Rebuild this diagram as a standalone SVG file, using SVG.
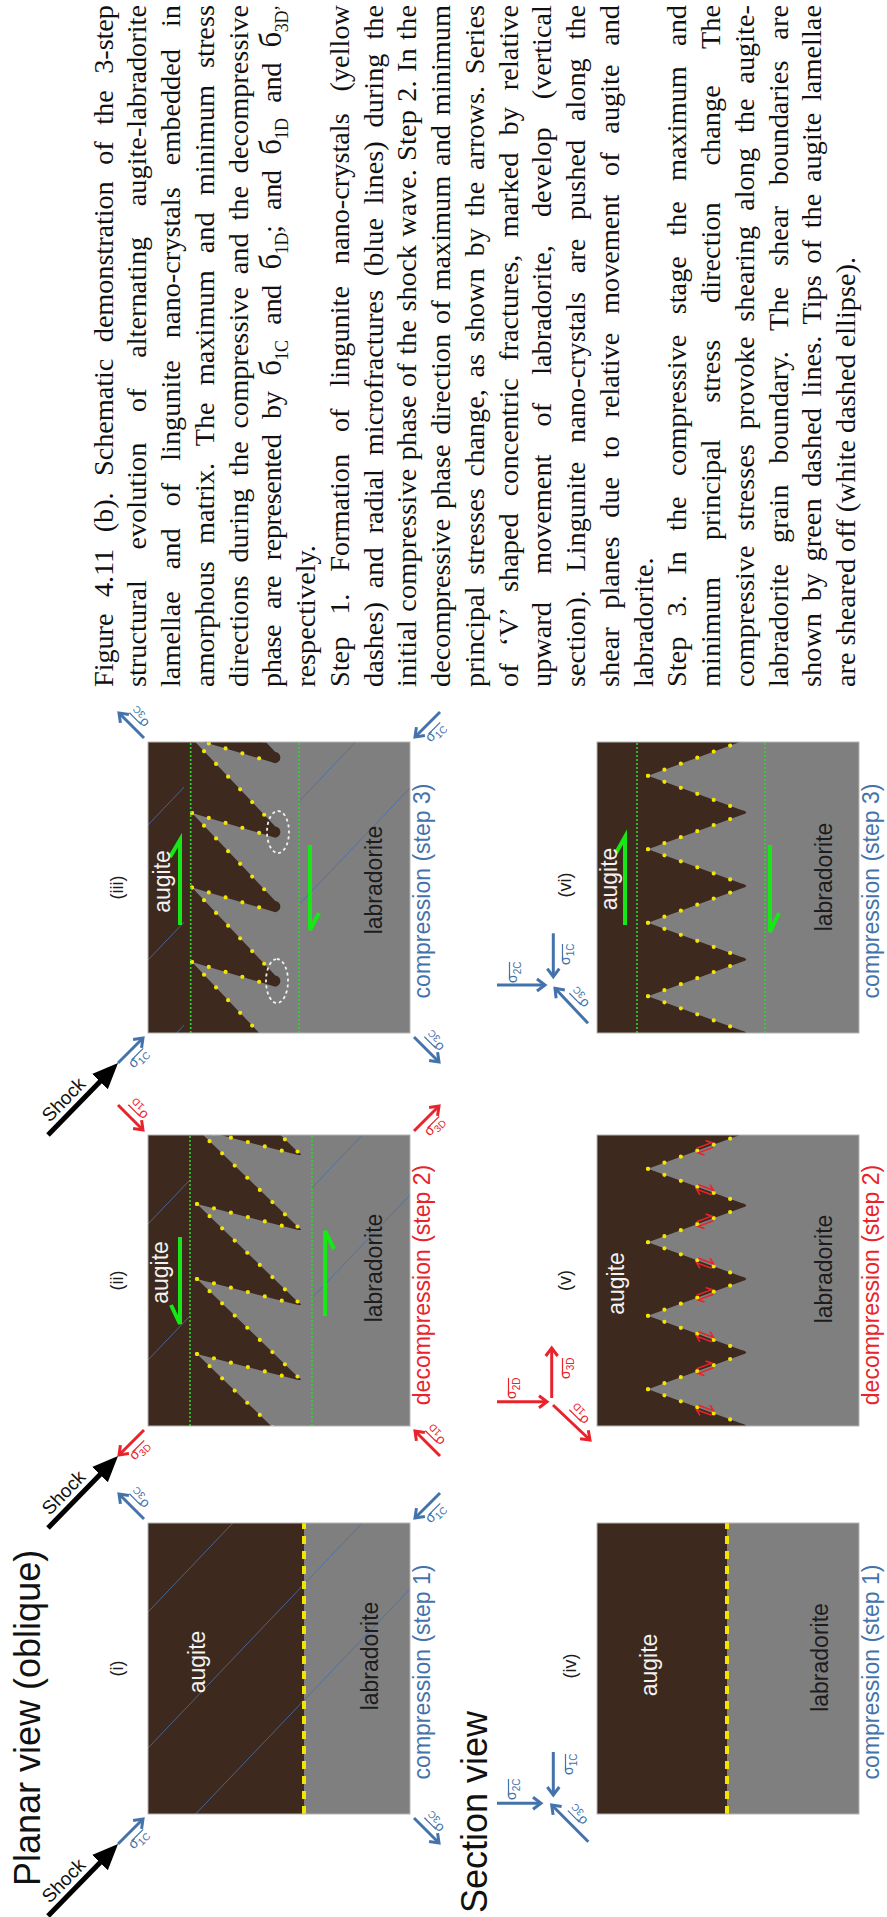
<svg xmlns="http://www.w3.org/2000/svg" width="887" height="1917" viewBox="0 0 887 1917">
<defs>
<style>
.sans{font-family:"Liberation Sans",Arial,sans-serif}
.serif{font-family:"Liberation Serif","Times New Roman",serif;font-size:28.3px;fill:#111}
.sg{font-size:31px}
.ts{font-size:18px}
.aug{fill:#f2f2f2;font-size:23px}
.lab{fill:#1c1c1c;font-size:23px}
.num{fill:#1c1c1c;font-size:18px}
.cap{font-size:23px}
.cb{fill:#4472aa}
.cr{fill:#e8232b}
.sig{font-size:14px}
.sub{font-size:10px}
.brown{fill:#3d291d}
.gray{fill:#7f7f7f}
.box{fill:none;stroke:#b5b5b5;stroke-width:1}
.frac{stroke:#4a6ea8;stroke-width:1;fill:none;opacity:.85}
.gd{stroke:#2fd42f;stroke-width:1.6;stroke-dasharray:2 2;fill:none}
.ga{stroke:#16e816;stroke-width:4;fill:none}
.yd{stroke:#f3e500;stroke-width:4.2;stroke-linecap:round;stroke-dasharray:0 17.5;fill:none}
.ydash{stroke:#f3e500;stroke-width:4;stroke-dasharray:8 7}
.ell{fill:none;stroke:#f0f0f0;stroke-width:1.8;stroke-dasharray:3 3}
.ab{stroke:#4472aa;stroke-width:3;fill:none}
.ar{stroke:#e8232b;stroke-width:3;fill:none}
.bb{stroke:#4472aa;stroke-width:1.2}
.br{stroke:#e8232b;stroke-width:1.2}
.shock{stroke:#000;stroke-width:5;fill:none}
</style>
<clipPath id="pc"><rect width="291" height="262"/></clipPath>
<marker id="hb" markerUnits="userSpaceOnUse" markerWidth="18" markerHeight="18" refX="11" refY="9" orient="auto"><path d="M3,3 L11,9 L3,15" fill="none" stroke="#4472aa" stroke-width="3"/></marker>
<marker id="hr" markerUnits="userSpaceOnUse" markerWidth="18" markerHeight="18" refX="11" refY="9" orient="auto"><path d="M3,3 L11,9 L3,15" fill="none" stroke="#e8232b" stroke-width="3"/></marker>
<marker id="hk" markerUnits="userSpaceOnUse" markerWidth="28" markerHeight="24" refX="8" refY="12" orient="auto"><path d="M0,1 L26,12 L0,23 Z" fill="#000"/></marker>
<!-- sheared lamella, planar step 2 (origin = its left root) -->
<path id="fin2" class="brown" d="M0,-8 H75 V0 L-22.8,100.7 Q-27.5,108 -25.5,99.2 L0,0 Z"/>
<g id="dots2"><line class="yd" x1="75" y1="0" x2="-23" y2="101"/><line class="yd" x1="0" y1="0" x2="-25.5" y2="99.5"/></g>
<!-- sheared lamella with blunt rounded tip, planar step 3 -->
<path id="fin3" class="brown" d="M0,-8 H74.5 V0 L-13.5,83.3 A5.6,5.6 0 0 1 -24.65,83.3 L0,0 Z"/>
<g id="dots3"><line class="yd" x1="74.5" y1="0" x2="-13.5" y2="83.3"/><line class="yd" x1="0" y1="0" x2="-24.6" y2="83.3"/></g>
<!-- V-shaped lamella, section view -->
<path id="finv" class="brown" d="M0,-8 H73.5 V0 L39.2,93.4 Q36.75,103 34.3,93.4 L0,0 Z"/>
<g id="dotsv"><line class="yd" x1="0" y1="0" x2="36" y2="98"/><line class="yd" x1="73.5" y1="0" x2="37.5" y2="98"/></g>
<!-- opposed shear half-arrows along a fracture -->
<g id="sh" fill="none" stroke="#e8232b" stroke-width="1.6"><path d="M-8,-2.5 H8 L3,-6.5"/><path d="M8,2.5 H-8 L-3,6.5"/></g>
</defs>

<rect width="887" height="1917" fill="#fff"/>

<g transform="translate(0,1917) rotate(-90)">

<g id="title-planar"><text class="sans" x="31" y="40" font-size="36" fill="#111">Planar view (oblique)</text></g>
<g id="title-section"><text class="sans" x="4" y="487" font-size="36" fill="#111">Section view</text></g>

<!-- planar (i) -->
<g id="panel-i" transform="translate(103,148)">
  <g clip-path="url(#pc)">
    <rect class="gray" width="291" height="262"/>
    <rect class="brown" width="291" height="156"/>
    <path class="frac" d="M202,0 L291,84.8 M66,0 L291,214.3 M0,47.6 L225,262"/>
    <line class="ydash" x1="0" y1="156" x2="291" y2="156"/>
  </g>
  <rect class="box" width="291" height="262"/>
  <text class="sans num" x="145.5" y="-25" text-anchor="middle">(i)</text>
  <text class="sans aug" x="152" y="57" text-anchor="middle">augite</text>
  <text class="sans lab" x="158" y="230" text-anchor="middle">labradorite</text>
  <text class="sans cap cb" x="142" y="282" text-anchor="middle">compression (step 1)</text>
</g>

<!-- planar (ii) -->
<g id="panel-ii" transform="translate(491,148)">
  <g clip-path="url(#pc)">
    <rect class="gray" width="291" height="262"/>
    <rect class="brown" width="291" height="49"/>
    <path class="frac" d="M202,0 L291,84.8 M66,0 L291,214.3 M0,41.9 L231,262"/>
    <rect class="gray" y="42" width="291" height="122"/>
    <use href="#fin2" x="-3" y="49"/><use href="#fin2" x="72" y="49"/><use href="#fin2" x="147" y="49"/><use href="#fin2" x="222" y="49"/><use href="#fin2" x="297" y="49"/>
    <use href="#dots2" x="-3" y="49"/><use href="#dots2" x="72" y="49"/><use href="#dots2" x="147" y="49"/><use href="#dots2" x="222" y="49"/><use href="#dots2" x="297" y="49"/>
    <line class="gd" x1="0" y1="42" x2="291" y2="42"/>
    <line class="gd" x1="0" y1="164" x2="291" y2="164"/>
    <path class="ga" d="M189,32 H102 L121,23"/>
    <path class="ga" d="M110,177 H195 L177,186"/>
  </g>
  <rect class="box" width="291" height="262"/>
  <text class="sans num" x="145.5" y="-25" text-anchor="middle">(ii)</text>
  <text class="sans aug" x="153.5" y="20" text-anchor="middle">augite</text>
  <text class="sans lab" x="158" y="234" text-anchor="middle">labradorite</text>
  <text class="sans cap cr" x="141" y="282" text-anchor="middle">decompression (step 2)</text>
</g>

<!-- planar (iii) -->
<g id="panel-iii" transform="translate(884,148)">
  <g clip-path="url(#pc)">
    <rect class="gray" width="291" height="262"/>
    <rect class="brown" width="291" height="44"/>
    <path class="frac" d="M208,0 L291,79 M73,0 L291,207.6 M0,28.6 L245,262"/>
    <rect class="gray" y="42.7" width="291" height="108.3"/>
    <use href="#fin3" x="-3.5" y="44"/><use href="#fin3" x="71" y="44"/><use href="#fin3" x="145.5" y="44"/><use href="#fin3" x="220" y="44"/><use href="#fin3" x="294.5" y="44"/>
    <use href="#dots3" x="-3.5" y="44"/><use href="#dots3" x="71" y="44"/><use href="#dots3" x="145.5" y="44"/><use href="#dots3" x="220" y="44"/><use href="#dots3" x="294.5" y="44"/>
    <ellipse class="ell" cx="201" cy="130" rx="21" ry="11"/>
    <ellipse class="ell" cx="52" cy="129" rx="22" ry="11"/>
    <line class="gd" x1="0" y1="42.7" x2="291" y2="42.7"/>
    <line class="gd" x1="0" y1="151" x2="291" y2="151"/>
    <path class="ga" d="M108,32 H193 L176,22"/>
    <path class="ga" d="M188,162 H103 L120,171"/>
  </g>
  <rect class="box" width="291" height="262"/>
  <text class="sans num" x="145.5" y="-25" text-anchor="middle">(iii)</text>
  <text class="sans aug" x="151.5" y="22" text-anchor="middle">augite</text>
  <text class="sans lab" x="153" y="234" text-anchor="middle">labradorite</text>
  <text class="sans cap cb" x="142" y="282" text-anchor="middle">compression (step 3)</text>
</g>

<!-- section (iv) -->
<g id="panel-iv" transform="translate(103,597)">
  <g clip-path="url(#pc)">
    <rect class="gray" width="291" height="262"/>
    <rect class="brown" width="291" height="130"/>
    <line class="ydash" x1="0" y1="130" x2="291" y2="130"/>
  </g>
  <rect class="box" width="291" height="262"/>
  <text class="sans num" x="148" y="-21" text-anchor="middle">(iv)</text>
  <text class="sans aug" x="149" y="60" text-anchor="middle">augite</text>
  <text class="sans lab" x="156.5" y="231" text-anchor="middle">labradorite</text>
  <text class="sans cap cb" x="142" y="282" text-anchor="middle">compression (step 1)</text>
</g>

<!-- section (v) -->
<g id="panel-v" transform="translate(491,597)">
  <g clip-path="url(#pc)">
    <rect class="gray" width="291" height="262"/>
    <rect class="brown" width="291" height="51"/>
    <use href="#finv" x="-36.75" y="51"/><use href="#finv" x="36.75" y="51"/><use href="#finv" x="110.25" y="51"/><use href="#finv" x="183.75" y="51"/><use href="#finv" x="257.25" y="51"/>
    <use href="#dotsv" x="-36.75" y="51"/><use href="#dotsv" x="36.75" y="51"/><use href="#dotsv" x="110.25" y="51"/><use href="#dotsv" x="183.75" y="51"/><use href="#dotsv" x="257.25" y="51"/>
    <use href="#sh" transform="translate(15.75,108) rotate(110.2)"/>
    <use href="#sh" transform="translate(57.75,108) rotate(69.8)"/>
    <use href="#sh" transform="translate(89.25,108) rotate(110.2)"/>
    <use href="#sh" transform="translate(131.25,108) rotate(69.8)"/>
    <use href="#sh" transform="translate(162.75,108) rotate(110.2)"/>
    <use href="#sh" transform="translate(204.75,108) rotate(69.8)"/>
    <use href="#sh" transform="translate(236.25,108) rotate(110.2)"/>
    <use href="#sh" transform="translate(278.25,108) rotate(69.8)"/>
  </g>
  <rect class="box" width="291" height="262"/>
  <text class="sans num" x="145.5" y="-26" text-anchor="middle">(v)</text>
  <text class="sans aug" x="142.5" y="26.5" text-anchor="middle">augite</text>
  <text class="sans lab" x="157" y="235" text-anchor="middle">labradorite</text>
  <text class="sans cap cr" x="141" y="282" text-anchor="middle">decompression (step 2)</text>
</g>

<!-- section (vi) -->
<g id="panel-vi" transform="translate(884,597)">
  <g clip-path="url(#pc)">
    <rect class="gray" width="291" height="262"/>
    <rect class="brown" width="291" height="51"/>
    <use href="#finv" x="-36.75" y="51"/><use href="#finv" x="36.75" y="51"/><use href="#finv" x="110.25" y="51"/><use href="#finv" x="183.75" y="51"/><use href="#finv" x="257.25" y="51"/>
    <use href="#dotsv" x="-36.75" y="51"/><use href="#dotsv" x="36.75" y="51"/><use href="#dotsv" x="110.25" y="51"/><use href="#dotsv" x="183.75" y="51"/><use href="#dotsv" x="257.25" y="51"/>
    <line class="gd" x1="0" y1="40" x2="291" y2="40"/>
    <line class="gd" x1="0" y1="168" x2="291" y2="168"/>
    <path class="ga" d="M108,28 H196 L180,19"/>
    <path class="ga" d="M188,173 H101 L120,182"/>
  </g>
  <rect class="box" width="291" height="262"/>
  <text class="sans num" x="148" y="-26" text-anchor="middle">(vi)</text>
  <text class="sans aug" x="154" y="20" text-anchor="middle">augite</text>
  <text class="sans lab" x="156" y="235" text-anchor="middle">labradorite</text>
  <text class="sans cap cb" x="142" y="282" text-anchor="middle">compression (step 3)</text>
</g>

<!-- stress and shock arrows -->
<g id="connectors">
  <line class="shock" x1="1" y1="48" x2="60.1" y2="105.5" marker-end="url(#hk)"/>
  <line class="shock" x1="389" y1="48" x2="448.1" y2="105.5" marker-end="url(#hk)"/>
  <line class="shock" x1="782" y1="48" x2="841.1" y2="105.5" marker-end="url(#hk)"/>

  <line class="ab" x1="73" y1="118" x2="98" y2="143" marker-end="url(#hb)"/>
  <line class="ab" x1="398" y1="144" x2="423" y2="119" marker-end="url(#hb)"/>
  <line class="ab" x1="99" y1="414" x2="74" y2="439" marker-end="url(#hb)"/>
  <line class="ab" x1="424" y1="440" x2="399" y2="415" marker-end="url(#hb)"/>

  <line class="ar" x1="487" y1="144" x2="462" y2="119" marker-end="url(#hr)"/>
  <line class="ar" x1="812" y1="118" x2="787" y2="143" marker-end="url(#hr)"/>
  <line class="ar" x1="461" y1="440" x2="486" y2="415" marker-end="url(#hr)"/>
  <line class="ar" x1="786" y1="414" x2="811" y2="439" marker-end="url(#hr)"/>

  <line class="ab" x1="854" y1="118" x2="879" y2="143" marker-end="url(#hb)"/>
  <line class="ab" x1="1179" y1="144" x2="1204" y2="119" marker-end="url(#hb)"/>
  <line class="ab" x1="880" y1="414" x2="855" y2="439" marker-end="url(#hb)"/>
  <line class="ab" x1="1205" y1="440" x2="1180" y2="415" marker-end="url(#hb)"/>

  <line class="ab" x1="113.7" y1="497" x2="113.7" y2="541" marker-end="url(#hb)"/>
  <line class="ab" x1="165" y1="553.3" x2="122" y2="553.3" marker-end="url(#hb)"/>
  <line class="ab" x1="75.3" y1="588.3" x2="112" y2="551.7" marker-end="url(#hb)"/>

  <line class="ar" x1="515.3" y1="497" x2="515.3" y2="547" marker-end="url(#hr)"/>
  <line class="ar" x1="519" y1="551.7" x2="569" y2="551.7" marker-end="url(#hr)"/>
  <line class="ar" x1="512" y1="553" x2="477" y2="590" marker-end="url(#hr)"/>

  <line class="ab" x1="932" y1="497" x2="932" y2="545" marker-end="url(#hb)"/>
  <line class="ab" x1="983.7" y1="553.3" x2="940.3" y2="553.3" marker-end="url(#hb)"/>
  <line class="ab" x1="893.7" y1="588" x2="928.7" y2="555" marker-end="url(#hb)"/>
</g>

<g id="arrow-labels" class="sans">
  <g transform="translate(37,83) rotate(44.2)"><text x="-14" y="-7" font-size="19" text-anchor="middle" fill="#111">Shock</text></g>
  <g transform="translate(425,83) rotate(44.2)"><text x="-14" y="-7" font-size="19" text-anchor="middle" fill="#111">Shock</text></g>
  <g transform="translate(818,83) rotate(44.2)"><text x="-14" y="-7" font-size="19" text-anchor="middle" fill="#111">Shock</text></g>

  <g transform="translate(85.5,130.5) rotate(45)"><text class="sig cb" y="15" text-anchor="middle">σ<tspan class="sub" dy="3.5">1C</tspan></text><line class="bb" x1="-6" y1="7.5" x2="10.5" y2="7.5"/></g>
  <g transform="translate(410.5,131.5) rotate(-45)"><text class="sig cb" y="15" text-anchor="middle">σ<tspan class="sub" dy="3.5">3C</tspan></text><line class="bb" x1="-6" y1="7.5" x2="10.5" y2="7.5"/></g>
  <g transform="translate(86.5,426.5) rotate(-45)"><text class="sig cb" y="15" text-anchor="middle">σ<tspan class="sub" dy="3.5">3C</tspan></text><line class="bb" x1="-6" y1="7.5" x2="10.5" y2="7.5"/></g>
  <g transform="translate(411.5,427.5) rotate(45)"><text class="sig cb" y="15" text-anchor="middle">σ<tspan class="sub" dy="3.5">1C</tspan></text><line class="bb" x1="-6" y1="7.5" x2="10.5" y2="7.5"/></g>

  <g transform="translate(474.5,131.5) rotate(45)"><text class="sig cr" y="15" text-anchor="middle">σ<tspan class="sub" dy="3.5">3D</tspan></text><line class="br" x1="-6" y1="7.5" x2="10.5" y2="7.5"/></g>
  <g transform="translate(799.5,130.5) rotate(-45)"><text class="sig cr" y="15" text-anchor="middle">σ<tspan class="sub" dy="3.5">1D</tspan></text><line class="br" x1="-6" y1="7.5" x2="10.5" y2="7.5"/></g>
  <g transform="translate(473.5,427.5) rotate(-45)"><text class="sig cr" y="15" text-anchor="middle">σ<tspan class="sub" dy="3.5">1D</tspan></text><line class="br" x1="-6" y1="7.5" x2="10.5" y2="7.5"/></g>
  <g transform="translate(798.5,426.5) rotate(45)"><text class="sig cr" y="15" text-anchor="middle">σ<tspan class="sub" dy="3.5">3D</tspan></text><line class="br" x1="-6" y1="7.5" x2="10.5" y2="7.5"/></g>

  <g transform="translate(866.5,130.5) rotate(45)"><text class="sig cb" y="15" text-anchor="middle">σ<tspan class="sub" dy="3.5">1C</tspan></text><line class="bb" x1="-6" y1="7.5" x2="10.5" y2="7.5"/></g>
  <g transform="translate(1191.5,131.5) rotate(-45)"><text class="sig cb" y="15" text-anchor="middle">σ<tspan class="sub" dy="3.5">3C</tspan></text><line class="bb" x1="-6" y1="7.5" x2="10.5" y2="7.5"/></g>
  <g transform="translate(867.5,426.5) rotate(-45)"><text class="sig cb" y="15" text-anchor="middle">σ<tspan class="sub" dy="3.5">3C</tspan></text><line class="bb" x1="-6" y1="7.5" x2="10.5" y2="7.5"/></g>
  <g transform="translate(1192.5,427.5) rotate(45)"><text class="sig cb" y="15" text-anchor="middle">σ<tspan class="sub" dy="3.5">1C</tspan></text><line class="bb" x1="-6" y1="7.5" x2="10.5" y2="7.5"/></g>

  <g><text class="sig cb" x="117" y="516">σ<tspan class="sub" dy="3.5">2C</tspan></text><line class="bb" x1="121" y1="508.5" x2="138" y2="508.5"/></g>
  <g><text class="sig cb" x="142" y="573">σ<tspan class="sub" dy="3.5">1C</tspan></text><line class="bb" x1="146" y1="565.5" x2="163" y2="565.5"/></g>
  <g transform="translate(93.6,570) rotate(-45)"><text class="sig cb" y="15" text-anchor="middle">σ<tspan class="sub" dy="3.5">3C</tspan></text><line class="bb" x1="-6" y1="7.5" x2="10.5" y2="7.5"/></g>

  <g><text class="sig cr" x="518" y="516">σ<tspan class="sub" dy="3.5">2D</tspan></text><line class="br" x1="522" y1="508.5" x2="539" y2="508.5"/></g>
  <g><text class="sig cr" x="538" y="570">σ<tspan class="sub" dy="3.5">3D</tspan></text><line class="br" x1="542" y1="562.5" x2="559" y2="562.5"/></g>
  <g transform="translate(494.5,571.5) rotate(-45)"><text class="sig cr" y="15" text-anchor="middle">σ<tspan class="sub" dy="3.5">1D</tspan></text><line class="br" x1="-6" y1="7.5" x2="10.5" y2="7.5"/></g>

  <g><text class="sig cb" x="934" y="517">σ<tspan class="sub" dy="3.5">2C</tspan></text><line class="bb" x1="938" y1="509.5" x2="955" y2="509.5"/></g>
  <g><text class="sig cb" x="952" y="570">σ<tspan class="sub" dy="3.5">1C</tspan></text><line class="bb" x1="956" y1="562.5" x2="973" y2="562.5"/></g>
  <g transform="translate(911,571.5) rotate(-45)"><text class="sig cb" y="15" text-anchor="middle">σ<tspan class="sub" dy="3.5">3C</tspan></text><line class="bb" x1="-6" y1="7.5" x2="10.5" y2="7.5"/></g>
</g>

<!-- figure caption -->
<g id="caption" class="serif">
<text x="1230" y="112.5" textLength="682" lengthAdjust="spacing" style="word-spacing:9.6px">Figure 4.11 (b). Schematic demonstration of the 3-step</text>
<text x="1230" y="146.25" textLength="682" lengthAdjust="spacing" style="word-spacing:23.5px">structural evolution of alternating augite-labradorite</text>
<text x="1230" y="180" textLength="682" lengthAdjust="spacing" style="word-spacing:14.9px">lamellae and of lingunite nano-crystals embedded in</text>
<text x="1230" y="213.75" textLength="682" lengthAdjust="spacing" style="word-spacing:10px">amorphous matrix. The maximum and minimum stress</text>
<text x="1230" y="247.5" textLength="682" lengthAdjust="spacing" style="word-spacing:5.7px">directions during the compressive and the decompressive</text>
<text x="1230" y="281.25" textLength="682" lengthAdjust="spacing" style="word-spacing:9px">phase are represented by <tspan class="sg">б</tspan><tspan class="ts" dy="7">1C</tspan><tspan dy="-7"> and </tspan><tspan class="sg">б</tspan><tspan class="ts" dy="7">1D</tspan><tspan dy="-7">; and </tspan><tspan class="sg">б</tspan><tspan class="ts" dy="7">1D</tspan><tspan dy="-7"> and </tspan><tspan class="sg">б</tspan><tspan class="ts" dy="7">3D’</tspan></text>
<text x="1230" y="315">respectively.</text>
<text x="1230" y="348.75" textLength="682" lengthAdjust="spacing" style="word-spacing:14.75px">Step 1. Formation of lingunite nano-crystals (yellow</text>
<text x="1230" y="382.5" textLength="682" lengthAdjust="spacing" style="word-spacing:6.8px">dashes) and radial microfractures (blue lines) during the</text>
<text x="1230" y="416.25" textLength="682" lengthAdjust="spacing" style="word-spacing:1px">initial compressive phase of the shock wave. Step 2. In the</text>
<text x="1230" y="450" textLength="682" lengthAdjust="spacing" style="word-spacing:2.8px">decompressive phase direction of maximum and minimum</text>
<text x="1230" y="483.75" textLength="682" lengthAdjust="spacing" style="word-spacing:4.7px">principal stresses change, as shown by the arrows. Series</text>
<text x="1230" y="517.5" textLength="682" lengthAdjust="spacing" style="word-spacing:9.9px">of ‘V’ shaped concentric fractures, marked by relative</text>
<text x="1230" y="551.25" textLength="682" lengthAdjust="spacing" style="word-spacing:21px">upward movement of labradorite, develop (vertical</text>
<text x="1230" y="585" textLength="682" lengthAdjust="spacing" style="word-spacing:11.6px">section). Lingunite nano-crystals are pushed along the</text>
<text x="1230" y="618.75" textLength="682" lengthAdjust="spacing" style="word-spacing:11.6px">shear planes due to relative movement of augite and</text>
<text x="1230" y="652.5">labradorite.</text>
<text x="1230" y="686.25" textLength="682" lengthAdjust="spacing" style="word-spacing:13.2px">Step 3. In the compressive stage the maximum and</text>
<text x="1230" y="720" textLength="682" lengthAdjust="spacing" style="word-spacing:29.7px">minimum principal stress direction change The</text>
<text x="1230" y="753.75" textLength="682" lengthAdjust="spacing" style="word-spacing:7.8px">compressive stresses provoke shearing along the augite-</text>
<text x="1230" y="787.5" textLength="682" lengthAdjust="spacing" style="word-spacing:13.7px">labradorite grain boundary. The shear boundaries are</text>
<text x="1230" y="821.25" textLength="682" lengthAdjust="spacing" style="word-spacing:4.5px">shown by green dashed lines. Tips of the augite lamellae</text>
<text x="1230" y="855">are sheared off (white dashed ellipse).</text>
</g>

</g>
</svg>
